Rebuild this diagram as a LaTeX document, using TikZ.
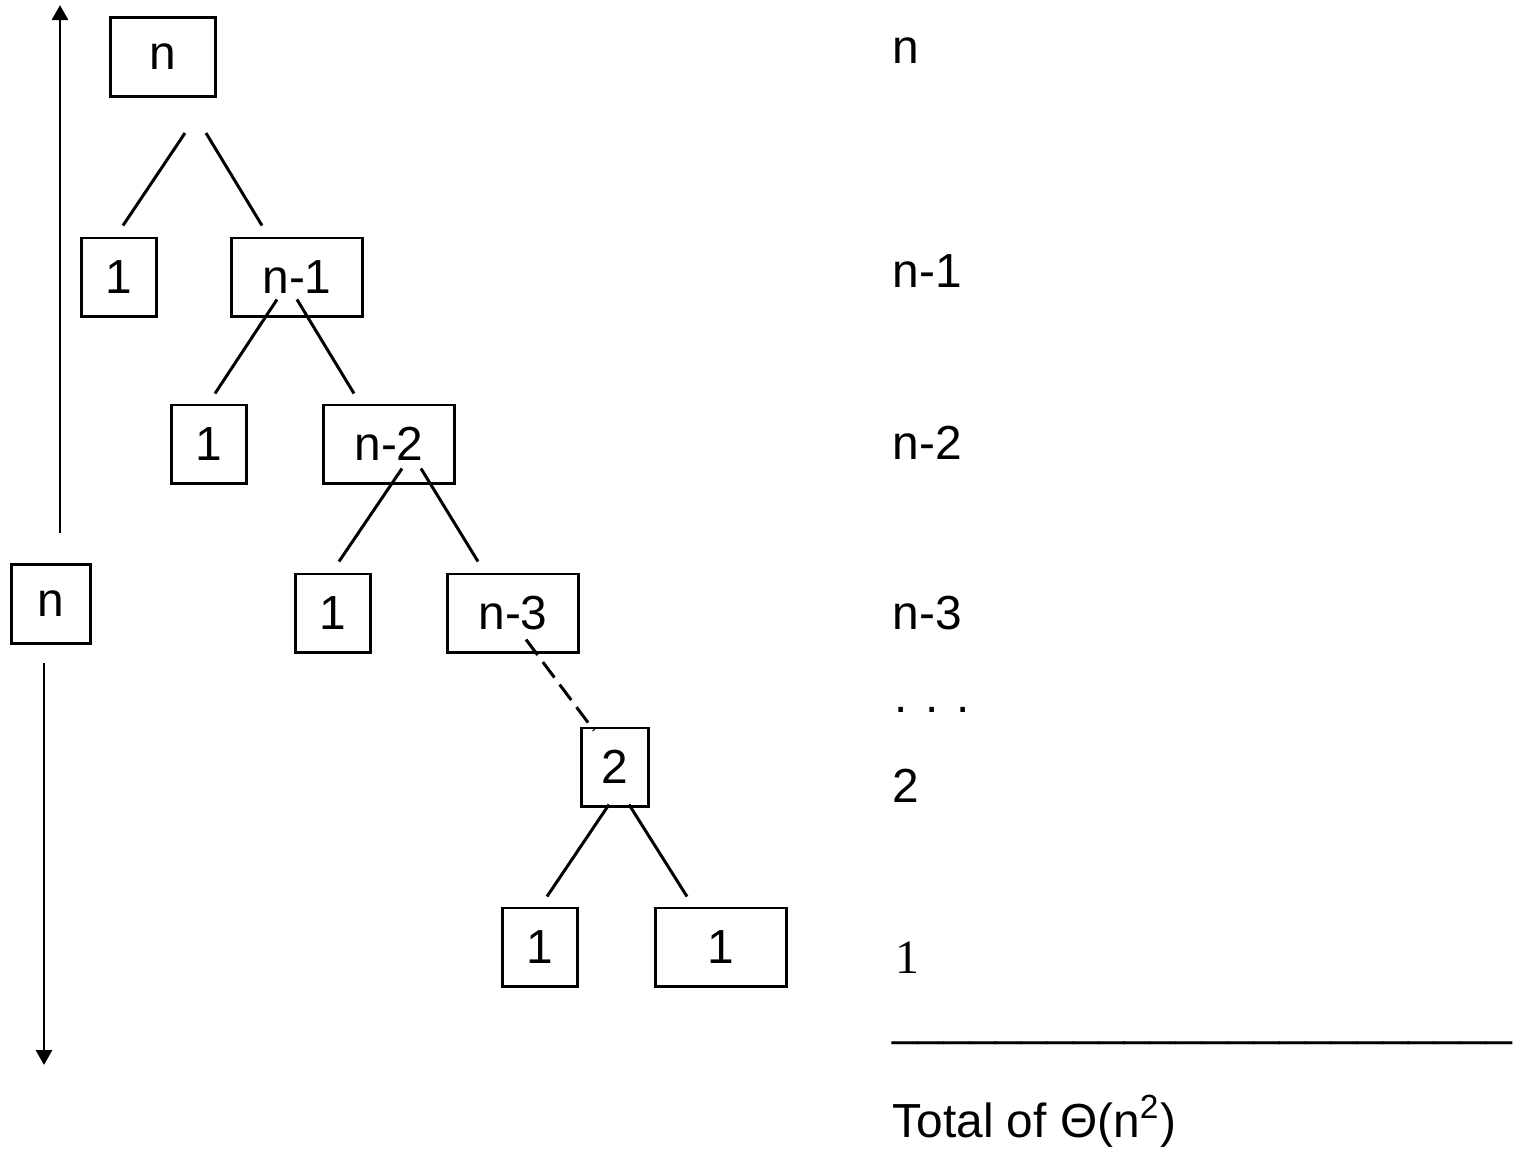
\documentclass[tikz,border=0pt]{standalone}
\usepackage{fontspec}
\setmainfont{Liberation Sans}
\newfontfamily\serifone{Liberation Serif}
\usetikzlibrary{arrows.meta,calc}
\newcommand{\treefont}{\fontsize{13.6}{16}\selectfont}
\tikzset{
  box/.style={draw, line width=0.85pt, inner sep=0pt, minimum height=0.78cm, font=\treefont},
  branch/.style={line width=0.85pt},
  lbl/.style={anchor=base west, inner sep=0pt, font=\treefont},
  arr/.style={line width=0.85pt, -{Triangle[length=0.15cm,width=0.16cm]}}
}

\begin{document}
\begin{tikzpicture}[x=0.01cm, y=-0.01cm]
  \useasboundingbox (0,0) rectangle (1523,1156);
  % recursion tree
  \node[box, minimum width=1.04cm, minimum height=0.79cm] (root) at (163,57) {n};
  \node[box, minimum width=0.75cm] (one1) at (119,277) {1};
  \node[box, minimum width=1.31cm] (nm1) at (297,277) {n-1};
  \node[box, minimum width=0.75cm] (one2) at (209,444) {1};
  \node[box, minimum width=1.31cm] (nm2) at (389,444) {n-2};
  \node[box, minimum width=0.75cm] (one3) at (333,613) {1};
  \node[box, minimum width=1.31cm] (nm3) at (513,613) {n-3};
  \node[box, minimum width=0.67cm] (two) at (615,767) {2};
  \node[box, minimum width=0.75cm] (leafa) at (540,947) {1};
  \node[box, minimum width=1.31cm] (leafb) at (721,947) {1};
  \draw[branch] ($(root.south)+(22,35)$) -- ($(one1.north)+(4,-11)$);
  \draw[branch] ($(root.south)+(43,35)$) -- ($(nm1.north)+(-35,-11)$);
  \draw[branch] ($(nm1.south)+(-20,-18)$) -- ($(one2.north)+(6,-10)$);
  \draw[branch] ($(nm1.south)+(0,-18)$) -- ($(nm2.north)+(-35,-10)$);
  \draw[branch] ($(nm2.south)+(13,-16)$) -- ($(one3.north)+(6,-11)$);
  \draw[branch] ($(nm2.south)+(32,-16)$) -- ($(nm3.north)+(-35,-11)$);
  \draw[branch, dash pattern=on 5.5pt off 2.5pt] ($(nm3.south)+(13,-14)$) -- ($(two.north)+(-21,4)$);
  \draw[branch] ($(two.south)+(-6,-3)$) -- ($(leafa.north)+(7,-10)$);
  \draw[branch] ($(two.south)+(14,-3)$) -- ($(leafb.north)+(-34,-10)$);
  % height of the tree
  \node[box, minimum width=0.79cm, minimum height=0.79cm] (height) at (51,604) {n};
  \coordinate (uptip) at (60,5);
  \coordinate (downtip) at (44,1065);
  \draw[arr, shorten <=0.3cm] (height.north -| uptip) -- (uptip);
  \draw[arr, shorten <=0.18cm] (height.south -| downtip) -- (downtip);
  % cost per level
  \node[lbl] (costa) at (892,63) {n};
  \node[lbl] (costb) at (892,287) {n-1};
  \node[lbl] (costc) at (892,459) {n-2};
  \node[lbl] (costd) at (892,629) {n-3};
  \node[lbl] (dots) at (894,712) {. . .};
  \node[lbl] (coste) at (892,802) {2};
  \node[lbl] (costf) at (895,973) {\serifone 1};
  \node[lbl, font=\fontsize{13.2}{16}\selectfont] (sumline) at (892,1035) {\_\_\_\_\_\_\_\_\_\_\_\_\_\_\_\_\_\_\_\_\_\_\_\_};
  \node[lbl] (total) at (892,1137) {Total of Θ(n\textsuperscript{2})};
\end{tikzpicture}
\end{document}
